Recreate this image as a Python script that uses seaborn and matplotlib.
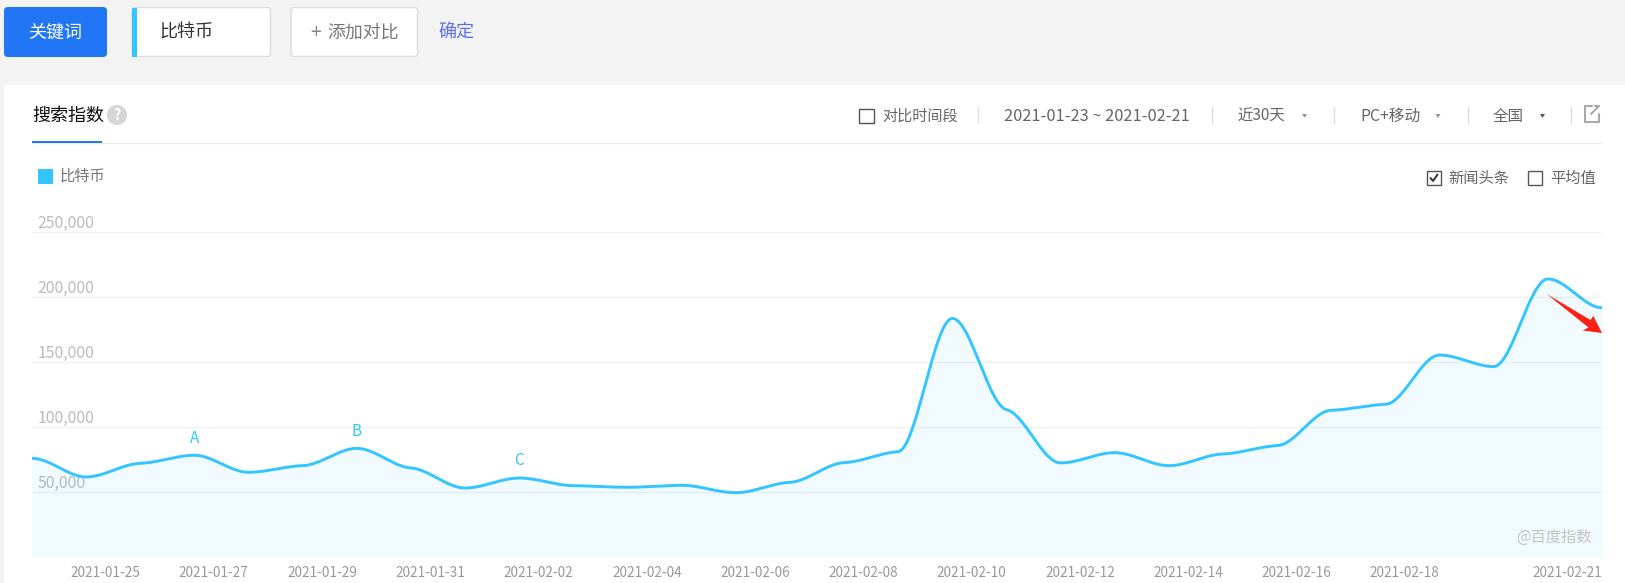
import matplotlib
matplotlib.use("Agg")
import matplotlib.pyplot as plt
import matplotlib.dates as mdates
from matplotlib.patches import FancyBboxPatch, Rectangle, Circle, Polygon
import numpy as np
import pandas as pd
import seaborn as sns

# daily search index
dates = pd.date_range("2021-01-23", "2021-02-21", freq="D")
index_values = [76150, 61800, 72300, 78500, 65400, 70500, 83800, 68700, 53300, 61000,
                55100, 53850, 55400, 49700, 57700, 72800, 81300, 183800, 113600, 72600,
                80500, 70500, 79500, 85900, 113100, 117700, 155600, 146700, 214100, 192000]
y_ticks = [50000, 100000, 150000, 200000, 250000]
x_tick_dates = ["2021-01-25", "2021-01-27", "2021-01-29", "2021-01-31", "2021-02-02",
                "2021-02-04", "2021-02-06", "2021-02-08", "2021-02-10", "2021-02-12",
                "2021-02-14", "2021-02-16", "2021-02-18", "2021-02-21"]
news_marks = {"A": "2021-01-26", "B": "2021-01-29", "C": "2021-02-01"}

BLUE = "#33c5ff"
W, H = 1625, 583


def flat_curve(y, flatness=0.18, per_day=24):
    # the site draws a smoothed line through the daily values, nearly level at each day
    y = np.asarray(y, dtype=float)
    d = np.diff(y)
    m = np.zeros(len(y))
    for i in range(1, len(y) - 1):
        if d[i - 1] * d[i] > 0:
            m[i] = flatness * 2 * d[i - 1] * d[i] / (d[i - 1] + d[i])
    t = np.linspace(0, 1, per_day, endpoint=False)
    xs, ys = [], []
    for i in range(len(d)):
        h00 = 2 * t**3 - 3 * t**2 + 1
        h10 = t**3 - 2 * t**2 + t
        h01 = -2 * t**3 + 3 * t**2
        h11 = t**3 - t**2
        xs.append(i + t)
        ys.append(h00 * y[i] + h10 * m[i] + h01 * y[i + 1] + h11 * m[i + 1])
    xs = np.append(np.concatenate(xs), len(y) - 1)
    ys = np.append(np.concatenate(ys), y[-1])
    return xs, ys


sns.set_theme(style="white")
plt.rcParams["font.family"] = ["Noto Sans CJK SC", "DejaVu Sans"]

fig = plt.figure(figsize=(W / 100, H / 100), dpi=100, facecolor="#f3f3f3")

# page chrome, in pixel coordinates
ui = fig.add_axes([0, 0, 1, 1], zorder=0)
ui.set_xlim(0, W)
ui.set_ylim(H, 0)
ui.axis("off")


def box(x0, y0, x1, y1, fc, ec="none", r=3):
    ui.add_patch(FancyBboxPatch((x0, y0), x1 - x0, y1 - y0, boxstyle=f"round,pad=0,rounding_size={r}",
                                fc=fc, ec=ec, lw=1))


def label(x, y, s, size, color, ha="left", **kw):
    ui.text(x, y + 1, s, fontsize=size, color=color, ha=ha, va="center", **kw)


def checkbox(x0, y0, x1, y1, checked=False):
    ui.add_patch(Rectangle((x0, y0), x1 - x0, y1 - y0, fc="white", ec="#555555", lw=1))
    if checked:
        ui.plot([x0 + 3.5, x0 + 6, x1 - 3], [(y0 + y1) / 2, y1 - 4, y0 + 3.5], color="#333333", lw=1.4)


ui.add_patch(Rectangle((4, 85), W - 4, H - 85, fc="white", ec="none"))

box(4, 7, 107, 57, "#2176f5", r=4)
label(55.5, 32, "关键词", 13, "white", ha="center")
box(132, 7.5, 270.5, 56.5, "white", "#dddddd")
ui.add_patch(Rectangle((132, 7.5), 5, 49, fc=BLUE, ec="none"))
label(159, 32, "比特币", 13, "#333333")
box(291, 7.5, 417.5, 56.5, "white", "#dddddd")
label(310, 32, "+", 14, "#888888")
label(327, 32, "添加对比", 12.9, "#777777")
label(438, 31, "确定", 13, "#5a6ff0")

label(32, 115, "搜索指数", 13, "#111111")
ui.add_patch(Circle((117, 115), 10, fc="#d6d6d6", ec="none"))
label(117, 114.5, "?", 10.5, "white", ha="center", fontweight="bold")
ui.plot([32, 1602], [143, 143], color="#eeeeee", lw=1)
ui.add_patch(Rectangle((32, 141), 70, 2.2, fc="#2176f5", ec="none", zorder=3))

checkbox(859, 108.5, 873.5, 122.5)
label(882, 115.5, "对比时间段", 10.9, "#666666")
for sx, sc in [(977.5, "#dfe2d0"), (1211.5, "#dddddd"), (1333.5, "#dddddd"), (1467.5, "#dddddd"), (1571, "#dddddd")]:
    ui.plot([sx, sx], [107, 123], color=sc, lw=1)
label(1003.5, 115.5, "2021-01-23 ~ 2021-02-21", 11.8, "#666666")
label(1237.5, 115.5, "近30天", 11.1, "#666666")
label(1360, 115.5, "PC+移动", 11.3, "#666666")
label(1493, 115.5, "全国", 11.2, "#666666")
for ax_, col in [(1304.5, "#999999"), (1438, "#999999"), (1542.5, "#555555")]:
    ui.add_patch(Polygon([(ax_ - 2.5, 114), (ax_ + 2.5, 114), (ax_, 118)], fc=col, ec="none"))
ui.plot([1592, 1585, 1585, 1599, 1599], [106, 106, 122, 122, 114], color="#aaaaaa", lw=1.5)
ui.plot([1591, 1599, 1599, 1595], [114, 106, 106, 106], color="#aaaaaa", lw=1.5)

ui.add_patch(Rectangle((38, 169), 15, 15, fc=BLUE, ec="none"))
label(59.5, 175, "比特币", 11, "#777777")
checkbox(1427, 171, 1440.5, 185, checked=True)
label(1448.5, 177.5, "新闻头条", 11, "#666666")
checkbox(1528, 171, 1542, 185)
label(1550, 177.5, "平均值", 11, "#666666")

# the chart itself
left, right, top, bottom = 32, 1602, 232.3, 557.3
ax = fig.add_axes([left / W, 1 - bottom / H, (right - left) / W, (bottom - top) / H], zorder=1)
ax.patch.set_alpha(0)

day_pos, curve = flat_curve(index_values)
curve_dates = dates[0] + pd.to_timedelta(day_pos, unit="D")
ax.fill_between(curve_dates, 0, curve, color=BLUE, alpha=0.07, lw=0, zorder=2)
sns.lineplot(x=curve_dates, y=curve, ax=ax, color=BLUE, linewidth=2.1, zorder=3)

ax.set_xlim(dates[0], dates[-1])
ax.set_ylim(0, 250000)
ax.set_xlabel("")
ax.set_ylabel("")
sns.despine(ax=ax, left=True, bottom=True, top=True, right=True)
ax.grid(axis="y", color="#f0f2f3", lw=1)
ax.grid(axis="x", visible=False)
ax.set_axisbelow(True)

ax.set_yticks(y_ticks)
ax.set_yticklabels([f"{v:,}" for v in y_ticks])
ax.tick_params(axis="y", length=0, pad=-4, labelsize=11.4, labelcolor="#bbbbbb")
for t in ax.get_yticklabels():
    t.set_ha("left")
    t.set_va("bottom")

ax.set_xticks(pd.to_datetime(x_tick_dates))
ax.xaxis.set_major_formatter(mdates.DateFormatter("%Y-%m-%d"))
ax.tick_params(axis="x", direction="in", length=2, width=1, color="white", pad=6, labelsize=9.8,
               labelcolor="#999999")
for t in ax.get_xticklabels():
    t.set_ha("right")

values = pd.Series(index_values, index=dates)
for name, day in news_marks.items():
    ax.annotate(name, (pd.Timestamp(day), values[day]), xytext=(0, 17 * 0.72), textcoords="offset points",
                ha="center", va="center", fontsize=11, color=BLUE)

ax.text(1591.7, 537, "@百度指数", transform=ui.transData, fontsize=11, color="#c4c4c4", ha="right", va="center")

# red arrow pasted on top of the screenshot
ax.add_patch(Polygon([(1546.7, 294), (1590.5, 320), (1593.3, 316), (1602, 333), (1582.7, 330.5), (1588.5, 327.5)],
                     fc="#ff2015", ec="none", transform=ui.transData, clip_on=False, zorder=5))

fig.savefig("out.png", dpi=100, facecolor=fig.get_facecolor())
